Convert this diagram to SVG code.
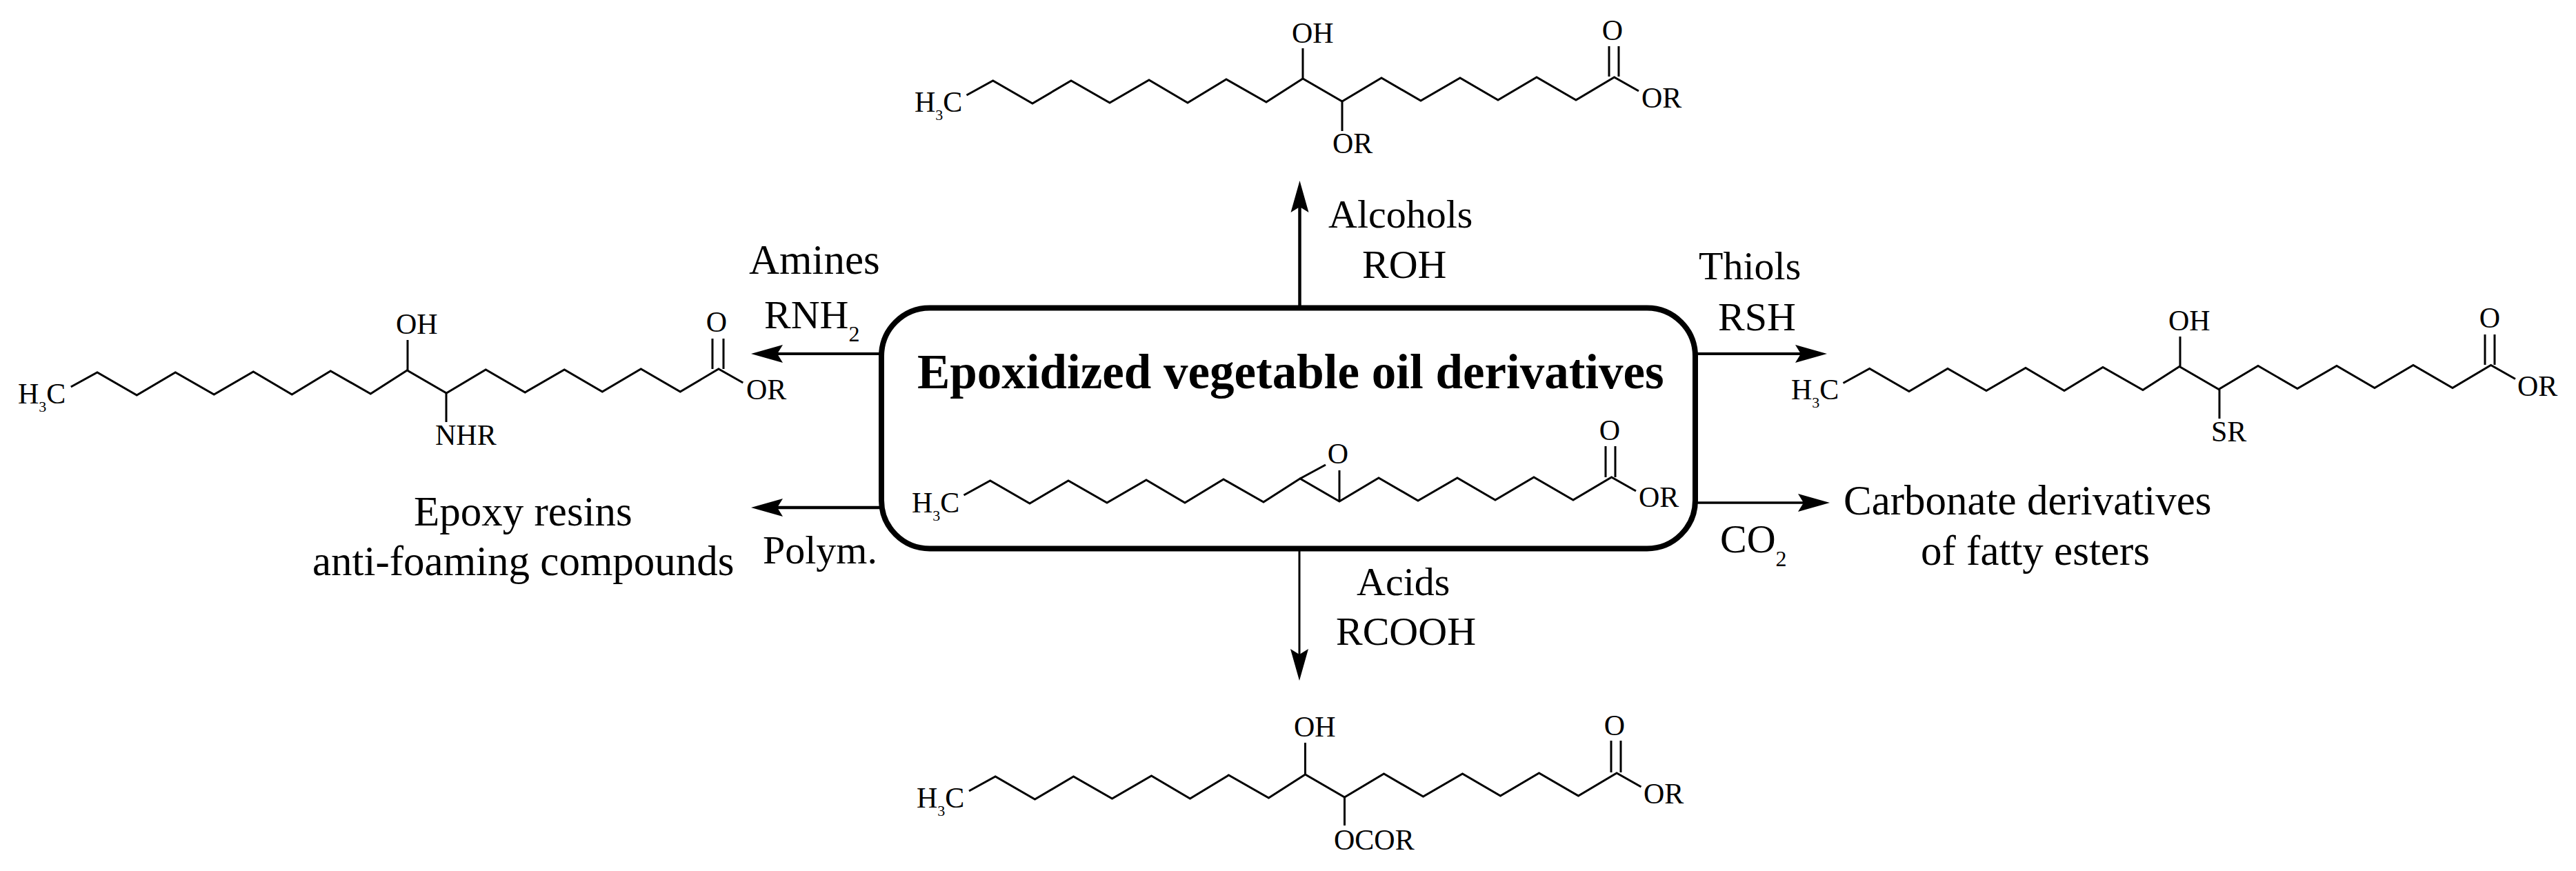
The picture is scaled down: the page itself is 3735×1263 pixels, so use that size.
<svg xmlns="http://www.w3.org/2000/svg" width="3735" height="1263" viewBox="0 0 3735 1263">
<style>
text{font-family:"Liberation Serif","Times New Roman",serif;fill:#000}
.m{font-size:42px}
.l{font-size:58px}
.w{font-size:61px}
.s{font-size:22px}
.ls{font-size:32px}
.t{font-size:71px;font-weight:bold}
.b{fill:none;stroke:#000;stroke-width:3;stroke-linejoin:miter}
.c{fill:none;stroke:#000}
.a{marker-end:url(#h)}
</style>
<defs>
<marker id="h" markerUnits="userSpaceOnUse" markerWidth="48" markerHeight="28" refX="8" refY="14" orient="auto"><path d="M46,14 L0,1 L8,14 L0,27 Z" fill="#000"/></marker>
<path id="chain" class="b" d="M1401.5,138 L1439.7,117 1497,150 1553,117 1609,149 1666,116 1722,149 1778,115 1836,148 1889,114 1946,147 2003,113 2060,146 2117,113 2172,145 2228,112 2285,145 2340.6,112 2376,132"/>
</defs>
<g id="connectors">
<line class="c a" stroke-width="4.5" x1="1884.5" y1="446" x2="1884.5" y2="300"/>
<line class="c a" stroke-width="3" x1="1884" y1="796" x2="1884" y2="949"/>
<line class="c a" stroke-width="4" x1="1278" y1="513" x2="1127" y2="513"/>
<line class="c a" stroke-width="4.5" x1="1278" y1="736" x2="1127" y2="736"/>
<line class="c a" stroke-width="4" x1="2458" y1="513" x2="2611" y2="513"/>
<line class="c a" stroke-width="3.5" x1="2458" y1="729" x2="2615" y2="729"/>
</g>
<g id="node-center">
<rect x="1278" y="446.5" width="1180" height="349" rx="70" ry="70" fill="#fff" stroke="#000" stroke-width="8"/>
<text class="t" x="1330" y="563">Epoxidized vegetable oil derivatives</text>
<use href="#chain" transform="translate(-4,580)"/>
<path class="b" d="M1885,694 L1922,674 M1942,682 V727 M2328,647 V692 M2342,647 V692"/>
<text class="m" x="1940" y="672" text-anchor="middle">O</text>
<text class="m" x="2334" y="638" text-anchor="middle">O</text>
<text class="m" x="2376" y="735">OR</text>
<text class="m" x="1322" y="743">H<tspan class="s" dy="12">3</tspan><tspan dy="-12">C</tspan></text>
</g>
<g id="node-top">
<use href="#chain"/>
<path class="b" d="M1889,70 V114 M1946,147 V190 M2333,67 V111 M2347,67 V111"/>
<text class="m" x="1873" y="62">OH</text>
<text class="m" x="1932" y="222">OR</text>
<text class="m" x="2338" y="58" text-anchor="middle">O</text>
<text class="m" x="2380" y="156">OR</text>
<text class="m" x="1326" y="162">H<tspan class="s" dy="12">3</tspan><tspan dy="-12">C</tspan></text>
</g>
<g id="node-bottom">
<use href="#chain" transform="translate(3.5,1009)"/>
<path class="b" d="M1892.5,1077 V1123 M1949.5,1155 V1197 M2336,1074 V1120 M2350,1074 V1120"/>
<text class="m" x="1876" y="1068">OH</text>
<text class="m" x="1934" y="1232">OCOR</text>
<text class="m" x="2341" y="1066" text-anchor="middle">O</text>
<text class="m" x="2383" y="1165">OR</text>
<text class="m" x="1329" y="1171">H<tspan class="s" dy="12">3</tspan><tspan dy="-12">C</tspan></text>
</g>
<g id="node-left">
<use href="#chain" transform="translate(-1298.7,423)"/>
<path class="b" d="M591,493 V537 M647,569 V612 M1033,491 V535 M1049,491 V535"/>
<text class="m" x="574" y="484">OH</text>
<text class="m" x="631" y="645">NHR</text>
<text class="m" x="1039" y="481" text-anchor="middle">O</text>
<text class="m" x="1082" y="579">OR</text>
<text class="m" x="26" y="585">H<tspan class="s" dy="12">3</tspan><tspan dy="-12">C</tspan></text>
</g>
<g id="node-right">
<use href="#chain" transform="translate(1271,417.5)"/>
<path class="b" d="M3161,488 V531 M3218,565 V607 M3603,485 V529 M3617,485 V529"/>
<text class="m" x="3144" y="479">OH</text>
<text class="m" x="3206" y="640">SR</text>
<text class="m" x="3610" y="475" text-anchor="middle">O</text>
<text class="m" x="3650" y="574">OR</text>
<text class="m" x="2597" y="579">H<tspan class="s" dy="12">3</tspan><tspan dy="-12">C</tspan></text>
</g>
<g id="labels">
<text class="l" x="1926" y="330">Alcohols</text>
<text class="l" x="1975" y="403">ROH</text>
<text class="l" x="1967" y="863">Acids</text>
<text class="l" x="1937" y="935">RCOOH</text>
<text class="w" x="1086" y="397">Amines</text>
<text class="l" x="1108" y="476">RNH<tspan class="ls" dy="19">2</tspan></text>
<text class="l" x="2463" y="405">Thiols</text>
<text class="l" x="2491" y="479">RSH</text>
<text class="l" x="1106" y="817">Polym.</text>
<text class="l" x="2494" y="801">CO<tspan class="ls" dy="20">2</tspan></text>
</g>
<g id="node-epoxy-resins">
<text class="w" x="600" y="762">Epoxy resins</text>
<text class="w" x="453" y="834">anti-foaming compounds</text>
</g>
<g id="node-carbonate">
<text class="w" x="2673" y="746">Carbonate derivatives</text>
<text class="w" x="2785" y="819">of fatty esters</text>
</g>
</svg>
